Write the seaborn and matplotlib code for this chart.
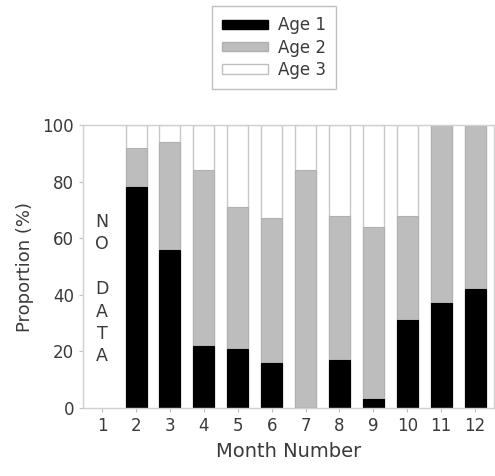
import pandas as pd
import seaborn as sns
import matplotlib.pyplot as plt
from matplotlib.patches import Patch

months = [2, 3, 4, 5, 6, 7, 8, 9, 10, 11, 12]
age1 = [78, 56, 22, 21, 16, 0, 17, 3, 31, 37, 42]
age2 = [14, 38, 62, 50, 51, 84, 51, 61, 37, 63, 58]
age3 = [8, 6, 16, 29, 33, 16, 32, 36, 32, 0, 0]
order = list(range(1, 13))

df = pd.DataFrame({'month': months, 'age1': age1, 'age2': age2, 'age3': age3})
df['age12'] = df['age1'] + df['age2']
df['total'] = df['age12'] + df['age3']

sns.set_style('white')
plt.rcParams['font.family'] = ['DejaVu Sans']

fig = plt.figure(figsize=(4.95, 4.76), dpi=100)
ax = fig.add_axes([0.168, 0.143, 0.830, 0.594])

w = 0.62
sns.barplot(x='month', y='total', data=df, order=order, color='white',
            edgecolor='#c8c8c8', linewidth=1, width=w, ax=ax, saturation=1)
sns.barplot(x='month', y='age12', data=df, order=order, color='#bdbdbd',
            edgecolor='#b0b0b0', linewidth=0.8, width=w, ax=ax, saturation=1)
sns.barplot(x='month', y='age1', data=df, order=order, color='black',
            edgecolor='black', linewidth=0.8, width=w, ax=ax, saturation=1)

ax.text(0, 42, 'N\nO\n\nD\nA\nT\nA', ha='center', va='center',
        fontsize=12.5, color='#3a3a3a', linespacing=1.31)

ax.set_ylim(0, 100)
ax.set_xlim(-0.56, 11.56)
ax.set_yticks([0, 20, 40, 60, 80, 100])
ax.set_xlabel('Month Number', fontsize=14, color='#3a3a3a', labelpad=5)
ax.set_ylabel('Proportion (%)', fontsize=13, color='#3a3a3a', labelpad=6)
ax.tick_params(axis='both', labelsize=12, colors='#3a3a3a', length=3,
               direction='out', bottom=True, left=True, color='#c0c0c0')
for s in ax.spines.values():
    s.set_color('#d0d0d0')
    s.set_linewidth(1)

handles = [Patch(facecolor='black', edgecolor='black'),
           Patch(facecolor='#bdbdbd', edgecolor='#b0b0b0'),
           Patch(facecolor='white', edgecolor='#c0c0c0')]
fig.legend(handles, ['Age 1', 'Age 2', 'Age 3'], loc='upper center',
           bbox_to_anchor=(0.554, 0.987), fontsize=12, frameon=True,
           fancybox=False, edgecolor='#b0b0b0', handlelength=2.75,
           handleheight=0.5, labelspacing=0.26, borderpad=0.6,
           borderaxespad=0, handletextpad=0.6, labelcolor='#3a3a3a')

fig.savefig('out.png', dpi=100)
